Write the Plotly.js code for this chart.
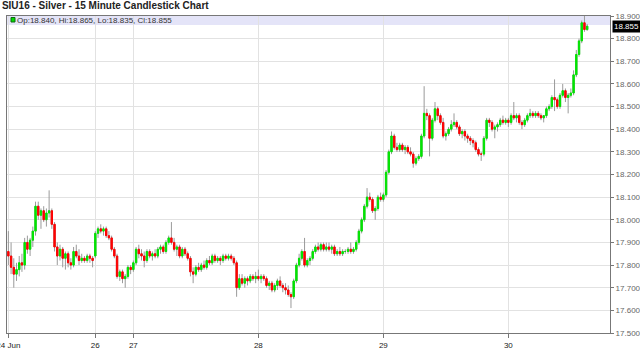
<!DOCTYPE html>
<html><head><meta charset="utf-8">
<script src="https://cdn.plot.ly/plotly-3.0.1.min.js"></script>
<style>html,body{margin:0;padding:0;background:#fff;}#chart{width:640px;height:363px;}</style>
</head><body><div id="chart"></div>
<script>
const chartTitle = 'SIU16 - Silver - 15 Minute Candlestick Chart';
const dayTickIdx = [0, 32, 46, 92, 138, 184];
const dayTickText = ['24 Jun', '26', '27', '28', '29', '30'];

const openP = [
17.86,17.84,17.79,17.76,17.78,17.81,17.80,17.90,17.87,17.91,17.95,18.06,18.02,18.04,18.00,18.03,18.04,17.98,17.88,17.84,17.87,17.83,17.85,17.81,17.80,17.86,17.84,17.82,17.83,17.82,17.84,17.83,
17.84,17.94,17.96,17.95,17.96,17.93,17.92,17.87,17.84,17.75,17.77,17.74,17.75,17.79,
17.78,17.81,17.87,17.85,17.84,17.82,17.86,17.84,17.85,17.84,17.87,17.88,17.86,17.90,17.92,17.90,17.87,17.88,17.84,17.87,17.85,17.83,17.77,17.76,17.79,17.78,17.80,17.79,17.82,17.81,17.84,17.82,17.83,17.82,17.84,17.83,17.84,17.83,17.81,17.70,17.74,17.72,17.74,17.73,17.75,17.74,
17.75,17.74,17.75,17.74,17.71,17.72,17.69,17.71,17.73,17.71,17.70,17.69,17.67,17.66,17.73,17.80,17.83,17.86,17.80,17.82,17.83,17.86,17.88,17.87,17.89,17.87,17.88,17.87,17.88,17.85,17.86,17.85,17.86,17.86,17.87,17.86,17.87,17.90,17.95,18.00,18.06,18.10,18.09,18.04,18.05,18.10,
18.09,18.11,18.21,18.30,18.37,18.32,18.31,18.33,18.31,18.32,18.30,18.29,18.25,18.27,18.28,18.37,18.47,18.46,18.36,18.44,18.49,18.46,18.43,18.37,18.38,18.40,18.42,18.43,18.41,18.38,18.39,18.37,18.36,18.35,18.34,18.31,18.29,18.29,18.36,18.44,18.43,18.40,18.41,18.42,18.44,18.43,
18.44,18.43,18.46,18.45,18.46,18.43,18.42,18.44,18.46,18.47,18.46,18.47,18.46,18.45,18.46,18.49,18.50,18.54,18.53,18.50,18.55,18.57,18.54,18.55,18.56,18.64,18.73,18.79,18.87,18.840
];
const highP = [
17.95,17.90,17.83,17.81,17.84,17.85,17.92,17.93,17.92,17.97,18.08,18.08,18.05,18.06,18.05,18.13,18.05,17.99,17.90,17.89,17.88,17.86,17.86,17.83,17.88,17.89,17.87,17.85,17.84,17.85,17.85,17.84,
17.95,17.97,17.98,17.97,17.97,17.95,17.93,17.88,17.85,17.78,17.78,17.76,17.80,17.80,
17.82,17.88,17.89,17.87,17.86,17.87,17.87,17.86,17.87,17.88,17.89,17.89,17.91,17.93,17.99,17.92,17.89,17.89,17.88,17.88,17.86,17.84,17.79,17.80,17.81,17.81,17.82,17.83,17.84,17.85,17.85,17.84,17.84,17.85,17.85,17.85,17.85,17.84,17.82,17.76,17.76,17.75,17.75,17.76,17.76,17.77,
17.78,17.76,17.76,17.75,17.73,17.73,17.72,17.74,17.75,17.72,17.72,17.71,17.68,17.74,17.81,17.85,17.87,17.92,17.83,17.84,17.87,17.89,17.90,17.90,17.90,17.90,17.90,17.89,17.89,17.87,17.88,17.87,17.87,17.88,17.90,17.88,17.91,17.96,18.01,18.07,18.14,18.12,18.10,18.06,18.11,18.12,
18.12,18.22,18.31,18.39,18.38,18.34,18.34,18.34,18.33,18.33,18.32,18.30,18.28,18.29,18.38,18.59,18.49,18.47,18.45,18.52,18.50,18.47,18.45,18.39,18.41,18.44,18.47,18.44,18.42,18.40,18.40,18.38,18.37,18.36,18.35,18.32,18.30,18.37,18.45,18.45,18.44,18.42,18.43,18.45,18.46,18.45,
18.45,18.47,18.52,18.47,18.47,18.44,18.45,18.47,18.49,18.48,18.48,18.48,18.47,18.46,18.50,18.51,18.55,18.62,18.54,18.56,18.60,18.58,18.56,18.58,18.66,18.75,18.80,18.88,18.905,18.865
];
const lowP = [
17.80,17.76,17.70,17.73,17.75,17.77,17.78,17.85,17.84,17.88,17.93,18.00,17.96,17.99,17.97,18.01,17.96,17.86,17.80,17.82,17.79,17.78,17.79,17.78,17.79,17.83,17.80,17.81,17.81,17.81,17.81,17.79,
17.83,17.92,17.94,17.93,17.92,17.91,17.86,17.83,17.74,17.73,17.72,17.70,17.74,17.76,
17.77,17.80,17.83,17.82,17.79,17.81,17.83,17.82,17.83,17.83,17.85,17.85,17.85,17.89,17.89,17.86,17.84,17.83,17.83,17.84,17.82,17.75,17.72,17.75,17.77,17.77,17.78,17.78,17.80,17.80,17.81,17.81,17.80,17.81,17.82,17.82,17.82,17.80,17.66,17.69,17.71,17.70,17.71,17.72,17.73,17.72,
17.73,17.72,17.73,17.70,17.69,17.68,17.68,17.69,17.70,17.68,17.67,17.66,17.61,17.65,17.72,17.79,17.82,17.79,17.79,17.80,17.82,17.85,17.86,17.86,17.86,17.86,17.86,17.85,17.84,17.84,17.84,17.84,17.85,17.85,17.85,17.85,17.86,17.89,17.94,17.99,18.05,18.08,18.03,18.00,18.04,18.08,
18.08,18.10,18.20,18.29,18.31,18.30,18.30,18.30,18.29,18.29,18.28,18.23,18.24,18.26,18.27,18.36,18.44,18.28,18.35,18.43,18.44,18.42,18.36,18.35,18.37,18.39,18.41,18.40,18.37,18.36,18.35,18.34,18.33,18.32,18.30,18.28,18.26,18.28,18.35,18.41,18.39,18.36,18.39,18.41,18.42,18.42,
18.41,18.42,18.44,18.43,18.42,18.40,18.41,18.43,18.45,18.45,18.45,18.45,18.44,18.43,18.45,18.48,18.49,18.48,18.49,18.49,18.54,18.52,18.47,18.54,18.55,18.63,18.72,18.78,18.83,18.835
];
const closeP = [
17.84,17.79,17.76,17.78,17.81,17.80,17.90,17.87,17.91,17.95,18.06,18.02,18.04,18.00,18.03,18.04,17.98,17.88,17.84,17.87,17.83,17.85,17.81,17.80,17.86,17.84,17.82,17.83,17.82,17.84,17.83,17.82,
17.94,17.96,17.95,17.96,17.93,17.92,17.87,17.84,17.75,17.77,17.74,17.75,17.79,17.78,
17.81,17.87,17.85,17.84,17.82,17.86,17.84,17.85,17.84,17.87,17.88,17.86,17.90,17.92,17.90,17.87,17.88,17.84,17.87,17.85,17.83,17.77,17.76,17.79,17.78,17.80,17.79,17.82,17.81,17.84,17.82,17.83,17.82,17.84,17.83,17.84,17.83,17.81,17.70,17.74,17.72,17.74,17.73,17.75,17.74,17.75,
17.74,17.75,17.74,17.71,17.72,17.69,17.71,17.73,17.71,17.70,17.69,17.67,17.66,17.73,17.80,17.83,17.86,17.80,17.82,17.83,17.86,17.88,17.87,17.89,17.87,17.88,17.87,17.88,17.85,17.86,17.85,17.86,17.86,17.87,17.86,17.87,17.90,17.95,18.00,18.06,18.10,18.09,18.04,18.05,18.10,18.09,
18.11,18.21,18.30,18.37,18.32,18.31,18.33,18.31,18.32,18.30,18.29,18.25,18.27,18.28,18.37,18.47,18.46,18.36,18.44,18.49,18.46,18.43,18.37,18.38,18.40,18.42,18.43,18.41,18.38,18.39,18.37,18.36,18.35,18.34,18.31,18.29,18.29,18.36,18.44,18.43,18.40,18.41,18.42,18.44,18.43,18.44,
18.43,18.46,18.45,18.46,18.43,18.42,18.44,18.46,18.47,18.46,18.47,18.46,18.45,18.46,18.49,18.50,18.54,18.53,18.50,18.55,18.57,18.54,18.55,18.56,18.64,18.73,18.79,18.87,18.84,18.855
];

const n = closeP.length;
const barIdx = closeP.map((v, i) => i);
const upColor = '#00e600', downColor = '#ff0000';
const bodyTop = closeP.map((c, i) => Math.max(c, openP[i]));
const bodyBottom = closeP.map((c, i) => Math.min(c, openP[i]));
const last = n - 1;
const infoText = 'Op:' + openP[last].toFixed(3) + ', Hi:' + highP[last].toFixed(3) +
  ', Lo:' + lowP[last].toFixed(3) + ', Cl:' + closeP[last].toFixed(3);

const FONT = 'Liberation Sans, Arial, sans-serif';

const traces = [
  {
    type: 'candlestick', x: barIdx, open: openP, high: highP, low: lowP, close: closeP,
    whiskerwidth: 0,
    increasing: {line: {color: '#9a9a9a', width: 1}, fillcolor: '#9a9a9a'},
    decreasing: {line: {color: '#9a9a9a', width: 1}, fillcolor: '#9a9a9a'},
    showlegend: false, hoverinfo: 'skip'
  },
  {
    type: 'candlestick', x: barIdx, open: openP, high: bodyTop, low: bodyBottom, close: closeP,
    whiskerwidth: 0,
    increasing: {line: {color: upColor, width: 1}, fillcolor: upColor},
    decreasing: {line: {color: downColor, width: 1}, fillcolor: downColor},
    showlegend: false, hoverinfo: 'skip'
  }
];

const layout = {
  width: 640, height: 363,
  margin: {l: 7, r: 30, t: 16, b: 30, pad: 0},
  paper_bgcolor: '#ffffff', plot_bgcolor: '#ffffff',
  showlegend: false, boxmode: 'overlay',
  font: {family: FONT, size: 8, color: '#333'},
  title: {
    text: '<b>' + chartTitle + '</b>',
    x: 0.003, xanchor: 'left', xref: 'container',
    y: 0.985, yanchor: 'middle', yref: 'container',
    font: {family: FONT, size: 10, color: '#222'}
  },
  xaxis: {
    type: 'linear', range: [-0.5, 221.4],
    tickmode: 'array', tickvals: dayTickIdx, ticktext: dayTickText,
    ticks: 'outside', ticklen: 4, tickcolor: '#777',
    ticklabeloverflow: 'allow',
    tickfont: {family: FONT, size: 8, color: '#222'},
    showgrid: true, gridcolor: '#e2e2e2', gridwidth: 1.5,
    showline: true, linecolor: '#777', linewidth: 1, mirror: true,
    zeroline: false, rangeslider: {visible: false}, fixedrange: true
  },
  yaxis: {
    side: 'right', range: [17.5, 18.9],
    tick0: 17.5, dtick: 0.1, tickformat: '.3f',
    ticks: 'outside', ticklen: 3, tickcolor: '#777',
    tickfont: {family: FONT, size: 8, color: '#666'},
    showgrid: true, gridcolor: '#e2e2e2', gridwidth: 1,
    showline: true, linecolor: '#777', linewidth: 1, mirror: true,
    zeroline: false, fixedrange: true
  },
  shapes: [
    {type: 'rect', xref: 'paper', yref: 'paper', x0: 0, x1: 1, y0: 0.9716, y1: 1,
     fillcolor: '#e4e4f8', line: {width: 0}, layer: 'below'},
    {type: 'rect', xref: 'paper', xsizemode: 'pixel', xanchor: 0, x0: 4, x1: 8,
     yref: 'paper', ysizemode: 'pixel', yanchor: 1, y0: -6, y1: -1.5,
     fillcolor: '#00dd00', line: {color: '#116611', width: 1}}
  ],
  annotations: [
    {xref: 'paper', yref: 'paper', x: 0, y: 1, xanchor: 'left', yanchor: 'middle',
     xshift: 8, yshift: -4.5, showarrow: false, text: infoText,
     font: {family: FONT, size: 8, color: '#333'}},
    {xref: 'paper', yref: 'y', x: 1, y: closeP[last], xanchor: 'left', yanchor: 'middle',
     xshift: 2, showarrow: false, text: closeP[last].toFixed(3),
     bgcolor: '#000000', borderpad: 1,
     font: {family: FONT, size: 8, color: '#ffffff'}}
  ]
};

Plotly.newPlot('chart', traces, layout, {staticPlot: true, displayModeBar: false});
</script>
</body></html>
